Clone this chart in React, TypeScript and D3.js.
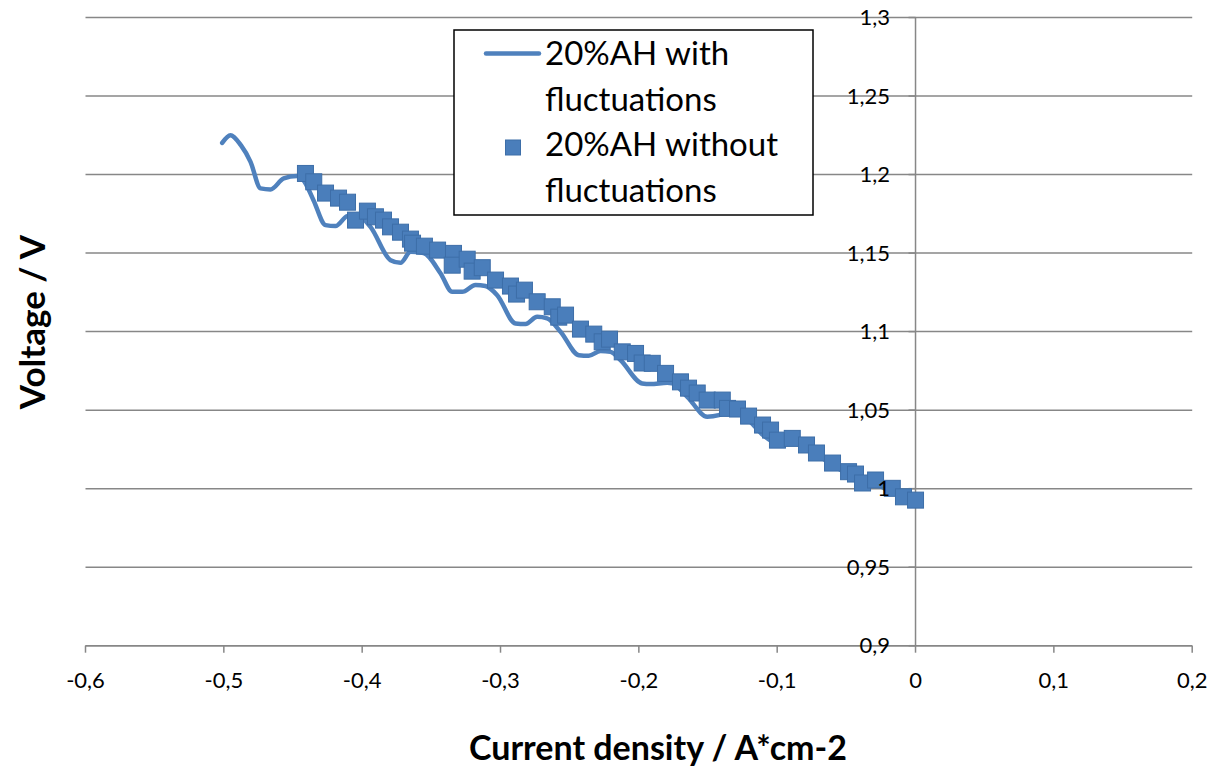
import React from "react";
import * as d3 from "d3";

// Series 1: 20%AH with fluctuations (smoothed line)
const lineX = [-0.5012, -0.4952, -0.4877, -0.4807, -0.4735, -0.4663, -0.4567, -0.447, -0.4424, -0.4352, -0.4265, -0.4193, -0.4108, -0.4036, -0.394, -0.3795, -0.3723, -0.365, -0.3557, -0.3434, -0.3349, -0.3277, -0.3181, -0.3109, -0.3024, -0.2892, -0.2819, -0.2735, -0.2663, -0.2566, -0.2434, -0.2362, -0.2277, -0.2205, -0.2133, -0.1976, -0.1916, -0.1795, -0.1759, -0.165, -0.1506, -0.1422, -0.1386, -0.13, -0.12, -0.11, -0.1, -0.09, -0.08, -0.07, -0.06, -0.05, -0.038, -0.03, -0.02, -0.01, 0];
const lineY = [1.2202, 1.2251, 1.2187, 1.2081, 1.1912, 1.1905, 1.1975, 1.199, 1.1964, 1.1837, 1.1678, 1.1672, 1.1735, 1.1742, 1.1667, 1.1455, 1.1438, 1.1508, 1.15, 1.1372, 1.1253, 1.1253, 1.1296, 1.129, 1.1232, 1.1052, 1.1048, 1.1094, 1.1084, 1.0999, 1.085, 1.0846, 1.0876, 1.0871, 1.0819, 1.067, 1.0666, 1.0674, 1.067, 1.0585, 1.0458, 1.0468, 1.0479, 1.048, 1.043, 1.034, 1.029, 1.03, 1.026, 1.021, 1.015, 1.01, 1.007, 1.004, 0.999, 0.995, 0.992];

// Series 2: 20%AH without fluctuations (square markers)
const markX = [-0.441, -0.435, -0.4265, -0.4171, -0.4106, -0.4048, -0.3962, -0.3904, -0.3846, -0.3795, -0.3723, -0.3651, -0.3636, -0.355, -0.3455, -0.334, -0.3349, -0.3241, -0.3205, -0.3132, -0.3036, -0.2928, -0.2884, -0.2827, -0.2735, -0.2626, -0.2579, -0.253, -0.2422, -0.2326, -0.2265, -0.2212, -0.212, -0.2024, -0.1976, -0.1903, -0.1807, -0.1699, -0.1641, -0.1578, -0.1506, -0.1397, -0.1359, -0.1287, -0.1207, -0.1106, -0.1048, -0.0998, -0.0891, -0.0788, -0.0716, -0.06, -0.0484, -0.0434, -0.0383, -0.0289, -0.0168, -0.0087, 0];
const markY = [1.2007, 1.1954, 1.1882, 1.185, 1.1824, 1.171, 1.1767, 1.1731, 1.171, 1.1667, 1.1633, 1.1589, 1.1563, 1.1544, 1.1519, 1.1498, 1.1423, 1.1461, 1.1385, 1.1407, 1.1328, 1.129, 1.1239, 1.1264, 1.119, 1.1158, 1.1092, 1.1105, 1.1016, 1.0984, 1.0935, 1.0952, 1.0871, 1.0861, 1.08, 1.0798, 1.0734, 1.068, 1.064, 1.0609, 1.0564, 1.0564, 1.0511, 1.0507, 1.0462, 1.0405, 1.0373, 1.0309, 1.032, 1.0278, 1.0227, 1.0163, 1.0108, 1.0093, 1.0036, 1.0055, 1.0002, 0.9948, 0.9927];

const xTicks = [-0.6, -0.5, -0.4, -0.3, -0.2, -0.1, 0, 0.1, 0.2];
const yTicks = [0.9, 0.95, 1, 1.05, 1.1, 1.15, 1.2, 1.25, 1.3];

const seriesNames = ["20%AH with", "fluctuations", "20%AH without", "fluctuations"];

const fmt = (v: number) => {
  const s = String(Math.round(v * 1000) / 1000);
  return s.replace(".", ",");
};

export default function App() {
  const W = 1214, H = 770;
  const x = d3.scaleLinear().domain([-0.6, 0.2]).range([85.5, 1192.2]);
  const y = d3.scaleLinear().domain([0.9, 1.3]).range([645.7, 17.5]);
  const font = "Lato, 'Open Sans', sans-serif";
  const lineColor = "#4F81BD";
  const markFill = "#4A7EBB";
  const markStroke = "#3D6EA8";

  const linePts: [number, number][] = lineX.map((v, i) => [v, lineY[i]]);
  const path = d3
    .line<[number, number]>()
    .x((d) => x(d[0]))
    .y((d) => y(d[1]))
    .curve(d3.curveMonotoneX)(linePts) || "";

  const ms = 16;

  return (
    <svg
      width={W}
      height={H}
      style={{ position: "fixed", left: 0, top: 0, display: "block", background: "#fff" }}
      fontFamily={font}
    >
      <rect x={0} y={0} width={W} height={H} fill="#fff" />
      {/* horizontal gridlines */}
      {yTicks.map((t) => (
        <line key={"g" + t} x1={x(-0.6)} x2={x(0.2)} y1={y(t)} y2={y(t)} stroke="#878787" strokeWidth={1.5} />
      ))}
      {/* x axis */}
      <line x1={x(-0.6)} x2={x(0.2)} y1={y(0.9)} y2={y(0.9)} stroke="#878787" strokeWidth={1.5} />
      {xTicks.map((t) => (
        <line key={"xt" + t} x1={x(t)} x2={x(t)} y1={y(0.9)} y2={y(0.9) + 7} stroke="#878787" strokeWidth={1.5} />
      ))}
      {xTicks.map((t) => (
        <text key={"xl" + t} x={x(t)} y={688} textAnchor="middle" fontSize={22} fill="#000">
          {fmt(t)}
        </text>
      ))}
      {/* y axis at x=0 */}
      <line x1={x(0)} x2={x(0)} y1={y(1.3)} y2={y(0.9)} stroke="#878787" strokeWidth={1.5} />
      {yTicks.map((t) => (
        <line key={"yt" + t} x1={x(0) - 7} x2={x(0)} y1={y(t)} y2={y(t)} stroke="#878787" strokeWidth={1.5} />
      ))}
      {/* series 1 line */}
      <path d={path} fill="none" stroke={lineColor} strokeWidth={4.5} strokeLinejoin="round" strokeLinecap="round" />
      {/* series 2 markers */}
      {markX.map((v, i) => (
        <rect
          key={"m" + i}
          x={x(v) - ms / 2}
          y={y(markY[i]) - ms / 2}
          width={ms}
          height={ms}
          fill={markFill}
          stroke={markStroke}
          strokeWidth={1}
        />
      ))}
      {/* y tick labels (drawn over the data, as in the reference) */}
      {yTicks.map((t) => (
        <text key={"yl" + t} x={890} y={y(t) + 7.5} textAnchor="end" fontSize={22} fill="#000">
          {fmt(t)}
        </text>
      ))}
      {/* legend */}
      <rect x={454} y={30} width={359} height={185} fill="#fff" stroke="#000" strokeWidth={1.5} />
      <line x1={486} x2={539} y1={53.5} y2={53.5} stroke={lineColor} strokeWidth={4.5} strokeLinecap="round" />
      <rect x={513 - 7.5} y={147.5 - 7.5} width={15} height={15} fill={markFill} stroke={markStroke} strokeWidth={1} />
      {seriesNames.map((s, i) => (
        <text key={"lg" + i} x={545} y={65 + i * 45.5} fontSize={33} fill="#000">
          {s}
        </text>
      ))}
      {/* axis titles */}
      <text x={658} y={760} textAnchor="middle" fontSize={34} fontWeight="bold" fill="#000">
        Current density / A*cm-2
      </text>
      <text
        transform={`translate(45,322) rotate(-90)`}
        textAnchor="middle"
        fontSize={35}
        fontWeight="bold"
        fill="#000"
      >
        Voltage / V
      </text>
    </svg>
  );
}
